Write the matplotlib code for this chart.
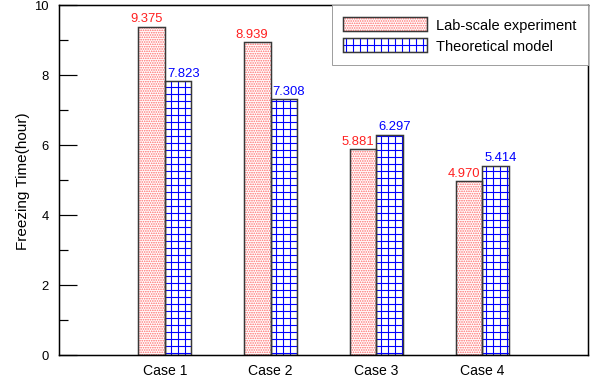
import matplotlib
matplotlib.use("Agg")
import matplotlib.pyplot as plt
import numpy as np
from matplotlib.legend_handler import HandlerTuple

# Data
cases = ["Case 1", "Case 2", "Case 3", "Case 4"]
lab_scale = [9.375, 8.939, 5.881, 4.970]
theoretical = [7.823, 7.308, 6.297, 5.414]
series_names = ["Lab-scale experiment", "Theoretical model"]

DPI = 84
PT = 72.0 / DPI  # pixels -> points

plt.rcParams["font.family"] = ["Liberation Sans", "DejaVu Sans"]
plt.rcParams["hatch.linewidth"] = 1.1 * PT

fig = plt.figure(figsize=(591 / DPI, 387 / DPI), dpi=DPI)
W, H = 591, 387
ax = fig.add_axes([59 / W, (H - 356) / H, (588 - 59) / W, 350 / H])

x = np.arange(1, len(cases) + 1)
bw = 0.25
edge_col = "#383838"
red = "#ff2020"
blue = "#0000ff"

# hatched fills
b1 = ax.bar(x - bw / 2, lab_scale, bw, color="white", edgecolor="#ff6a6a",
            hatch="......", linewidth=0)
b2 = ax.bar(x + bw / 2, theoretical, bw, color="white", edgecolor=blue,
            hatch="++", linewidth=0)
# outlines
e1 = ax.bar(x - bw / 2, lab_scale, bw, color="none", edgecolor=edge_col,
            linewidth=1.5 * PT)
e2 = ax.bar(x + bw / 2, theoretical, bw, color="none", edgecolor=edge_col,
            linewidth=1.5 * PT)

# value labels
for xi, v in zip(x, lab_scale):
    ax.text(xi - 0.02, v + 0.07, f"{v:.3f}", color=red, ha="right",
            va="bottom", fontsize=13 * PT)
for xi, v in zip(x, theoretical):
    ax.text(xi + 0.02, v + 0.07, f"{v:.3f}", color=blue, ha="left",
            va="bottom", fontsize=13 * PT)

ax.set_xlim(0, 5)
ax.set_ylim(0, 10)
ax.set_xticks(x)
ax.set_xticklabels(cases, fontsize=14 * PT)
ax.tick_params(axis="x", length=0, pad=8 * PT)
ax.set_yticks(np.arange(0, 11, 2))
ax.set_yticks(np.arange(1, 10, 2), minor=True)
ax.tick_params(axis="y", which="major", direction="in", length=18 * PT,
               width=1.2 * PT, labelsize=13 * PT, pad=10 * PT)
ax.tick_params(axis="y", which="minor", direction="in", length=9 * PT,
               width=1.2 * PT)
for s in ax.spines.values():
    s.set_linewidth(1.5 * PT)
    s.set_color("black")

ax.set_ylabel("Freezing Time(hour)", fontsize=15.3 * PT)
ax.yaxis.set_label_coords((30 - 59) / (588 - 59), 0.5)

leg = ax.legend([(b1[0], e1[0]), (b2[0], e2[0])], series_names,
                handler_map={tuple: HandlerTuple(ndivide=1, pad=0)},
                loc="upper right", bbox_to_anchor=(1, 1), borderaxespad=0,
                fancybox=False, edgecolor="#a0a0a0", framealpha=1,
                fontsize=14.6 * PT, handlelength=5.75, handleheight=1.15,
                handletextpad=0.6, labelspacing=0.4, borderpad=0.8)
leg.get_frame().set_linewidth(1.0 * PT)

fig.savefig("out.png", dpi=DPI)
